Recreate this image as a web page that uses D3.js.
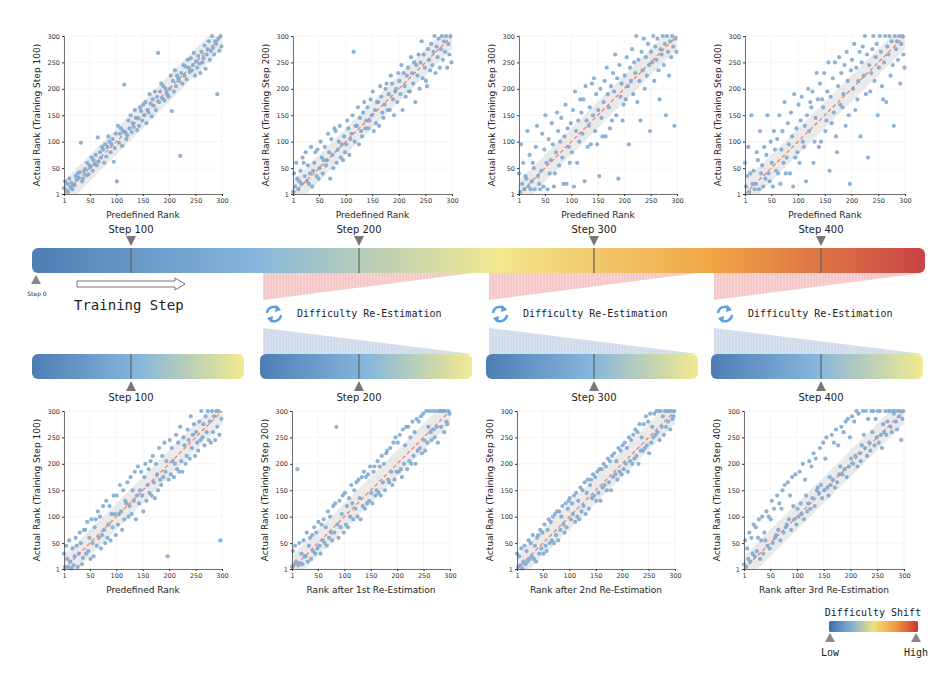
<!DOCTYPE html>
<html><head><meta charset="utf-8">
<script src="https://cdn.jsdelivr.net/npm/d3@7"></script>
<style>body{margin:0;background:#fff}</style>
</head><body><svg id="c" width="950" height="680" font-family="DejaVu Sans, sans-serif"></svg>
<script>
// ---- DATA (y values for predefined ranks 1,3,5,...,299) ----
const top1=[12,25,8,20,5,30,15,22,10,18, 18,35,28,40,32,42,98,25,30,44, 48,36,60,38,55,52,70,45,65,58, 75,55,108,62,80,70,90,85,60,95, 72,90,110,100,80,95,105,62,88,115, 25,130,98,115,125,92,120,208,118,105, 112,140,125,150,118,135,128,160,145,122, 145,130,165,158,140,170,150,175,135,160, 155,190,172,148,180,168,195,160,185,268, 175,195,210,182,205,178,200,192,188,185, 200,225,158,215,195,235,205,225,220,215, 73,230,210,245,225,242,218,255,240,232, 258,235,245,268,225,252,240,262,248,230, 270,250,258,282,238,265,275,290,255,272, 300,278,265,290,285,190,295,272,300,280];
const top2=[5,40,15,60,30,10,25,45,20,70, 60,35,80,25,55,20,40,90,15,45, 60,80,35,85,30,50,100,70,40,65, 90,55,65,115,80,30,105,75,50,125, 120,60,85,100,130,70,95,65,110,80, 95,140,125,75,105,115,150,270,100,130, 130,165,95,145,120,110,155,175,125,140, 165,125,140,180,150,195,120,160,135,175, 175,130,205,185,155,145,170,200,210,160, 190,160,225,210,180,150,195,200,175,230, 215,190,245,160,230,205,185,225,240,195, 195,260,230,210,250,175,245,225,265,200, 250,290,220,265,240,215,205,275,255,235, 285,245,270,300,230,280,260,295,240,275, 300,255,290,270,300,240,285,265,300,250];
const top3=[40,5,95,20,60,10,35,30,120,15, 75,10,25,60,50,10,90,130,35,20, 10,45,115,15,85,150,60,10,105,40, 65,135,95,15,40,80,155,120,55,100, 145,70,20,110,170,20,125,90,60,135, 80,160,15,195,120,60,140,100,180,155, 115,180,25,205,140,90,130,165,95,210, 150,220,120,190,95,160,35,200,145,110, 175,215,110,240,190,165,125,205,140,230, 195,265,150,220,30,245,185,210,140,170, 225,180,260,205,95,240,215,275,190,250, 230,300,175,255,215,140,270,235,295,200, 260,225,285,245,120,270,250,300,215,280, 255,295,235,180,275,265,300,245,285,150, 300,270,225,290,260,300,280,130,295,270];
const top4=[60,15,35,90,5,40,150,20,45,10, 20,80,65,10,120,40,55,15,90,30, 75,150,40,25,100,60,15,120,85,45, 105,40,150,20,85,120,60,175,40,70, 135,95,40,155,110,15,190,70,125,80, 170,60,140,185,100,90,130,25,150,200, 120,175,165,195,60,100,145,230,180,90, 210,100,180,165,230,120,140,195,250,45, 185,135,220,155,250,110,80,205,260,170, 230,165,190,245,130,270,215,150,20,235, 255,200,285,160,240,180,215,270,110,250, 280,225,300,190,265,70,245,195,230,275, 300,215,260,285,150,240,300,270,205,180, 250,300,175,280,265,300,225,290,245,130, 300,275,290,255,300,210,285,300,265,240];
const bot1=[30,5,45,20,5,55,15,2,40,8, 25,60,45,5,30,70,50,10,22,75, 75,30,90,35,60,20,95,50,25,80, 95,45,110,60,100,40,65,120,75,50, 130,60,85,120,55,105,80,140,105,65, 140,85,105,160,110,75,150,95,130,125, 165,100,120,175,105,150,130,185,95,140, 195,125,150,185,140,110,175,200,130,160, 190,145,205,140,215,165,135,200,180,150, 230,170,160,215,175,240,185,205,25,170, 245,180,230,205,175,200,255,190,240,185, 270,205,185,250,235,200,215,265,245,210, 290,230,255,275,215,260,240,225,280,245, 300,250,275,235,290,260,300,245,280,240, 300,260,290,245,300,270,300,255,55,285];
const bot2=[5,35,10,45,15,190,8,50,12,30, 10,55,25,25,70,15,45,60,20,65, 35,80,30,70,40,90,45,30,85,55, 95,50,80,45,110,60,100,70,55,120, 70,125,270,85,60,130,80,105,140,70, 145,85,120,80,135,100,160,125,95,150, 115,165,100,170,135,95,175,120,185,115, 175,125,180,130,195,145,125,185,195,140, 150,205,145,195,140,215,165,200,150,220, 225,170,165,230,185,160,240,170,250,185, 240,185,255,190,175,265,200,235,270,190, 270,205,250,200,280,215,260,200,285,225, 280,230,290,220,295,245,225,300,240,270, 300,260,245,300,265,250,300,270,240,300, 300,270,300,300,260,300,280,275,300,295];
const bot3=[30,5,25,8,40,2,15,45,10,35, 15,55,20,50,25,65,20,45,15,60, 65,30,75,40,70,30,85,45,35,75, 95,50,90,55,100,50,105,65,110,55, 110,75,100,120,85,70,125,80,115,130, 135,95,125,105,140,90,145,100,130,95, 155,110,150,120,165,105,145,170,115,160, 170,135,180,140,175,130,185,145,190,130, 190,155,200,160,195,150,210,165,205,150, 215,175,220,180,205,170,230,185,225,180, 235,190,240,200,230,185,250,205,245,200, 255,210,265,215,260,200,275,225,250,225, 275,230,290,235,280,220,295,240,270,250, 295,255,300,260,300,245,300,270,290,255, 300,270,300,280,300,265,300,285,290,300];
const bot4=[10,55,5,40,20,70,15,60,30,85, 25,80,35,60,95,20,55,100,30,70, 55,110,45,100,40,95,130,50,115,60, 65,140,75,125,55,115,150,70,160,80, 85,165,95,140,75,175,120,95,180,85, 115,100,185,125,105,200,95,170,140,110, 125,205,115,195,135,220,120,210,150,155, 145,230,160,135,240,150,210,250,155,140, 175,160,255,170,240,155,265,165,235,180, 195,270,180,260,190,280,175,285,195,250, 210,290,200,280,215,300,195,295,220,205, 235,300,255,230,300,215,285,240,225,300, 260,300,235,285,250,300,240,300,255,230, 275,260,300,255,280,300,300,270,260,300, 295,300,280,265,300,290,300,245,285,300];
const xTicks=[1,50,100,150,200,250,300];
const stepLabels=["Step 100","Step 200","Step 300","Step 400"];
const stepPos=[100,200,300,400];
const panels=[
 {x:64,y:36,w:158,h:158,d:top1,yl:"Actual Rank (Training Step 100)",xl:"Predefined Rank"},
 {x:293,y:36,w:159,h:158,d:top2,yl:"Actual Rank (Training Step 200)",xl:"Predefined Rank"},
 {x:519,y:36,w:158,h:158,d:top3,yl:"Actual Rank (Training Step 300)",xl:"Predefined Rank"},
 {x:745,y:36,w:160,h:158,d:top4,yl:"Actual Rank (Training Step 400)",xl:"Predefined Rank"},
 {x:64,y:411,w:158,h:158,d:bot1,yl:"Actual Rank (Training Step 100)",xl:"Predefined Rank"},
 {x:292,y:411,w:158,h:158,d:bot2,yl:"Actual Rank (Training Step 200)",xl:"Rank after 1st Re-Estimation"},
 {x:517,y:411,w:158,h:158,d:bot3,yl:"Actual Rank (Training Step 300)",xl:"Rank after 2nd Re-Estimation"},
 {x:744,y:411,w:160,h:158,d:bot4,yl:"Actual Rank (Training Step 400)",xl:"Rank after 3rd Re-Estimation"}];
const MONO="DejaVu Sans Mono, monospace";

const svg=d3.select("#c");
const defs=svg.append("defs");
function grad(id,stops){const g=defs.append("linearGradient").attr("id",id);
 stops.forEach(s=>g.append("stop").attr("offset",s[0]).attr("stop-color",s[1]));}
grad("gTop",[[0,"#4e7db4"],[0.25,"#86b6dd"],[0.52,"#f1e88e"],[0.76,"#f1a544"],[1,"#c94446"]]);
grad("gBot",[[0,"#4e7db4"],[0.5,"#86b6dd"],[1,"#f2ea90"]]);
grad("gLeg",[[0,"#3a6fb0"],[0.25,"#7fb0d8"],[0.5,"#f0e27a"],[0.75,"#f09a3c"],[1,"#cc3333"]]);
function hatch(id,bg,line){const p=defs.append("pattern").attr("id",id).attr("width",3).attr("height",4).attr("patternUnits","userSpaceOnUse");
 p.append("rect").attr("width",3).attr("height",4).attr("fill",bg);
 p.append("line").attr("x1",1).attr("x2",1).attr("y1",0).attr("y2",4).attr("stroke",line).attr("stroke-width",0.8);}
hatch("hPink","#f8d4d4","#f1b8b8");hatch("hBlue","#d9e3ef","#c3d2e5");

panels.forEach((p,i)=>{
 const g=svg.append("g").attr("transform",`translate(${p.x},${p.y})`);
 const x=d3.scaleLinear().domain([1,300]).range([0,p.w]);
 const y=d3.scaleLinear().domain([1,300]).range([p.h,0]);
 defs.append("clipPath").attr("id","cp"+i).append("rect").attr("width",p.w).attr("height",p.h);
 g.selectAll(".gx").data(xTicks).join("line").attr("x1",d=>x(d)).attr("x2",d=>x(d)).attr("y1",0).attr("y2",p.h).attr("stroke","#eee").attr("stroke-width",0.6);
 g.selectAll(".gy").data(xTicks).join("line").attr("y1",d=>y(d)).attr("y2",d=>y(d)).attr("x1",0).attr("x2",p.w).attr("stroke","#eee").attr("stroke-width",0.6);
 const band=[[1,-24],[1,26],[300,326],[300,276]];
 g.append("path").attr("clip-path",`url(#cp${i})`).attr("d",d3.line()(band.map(b=>[x(b[0]),y(b[1])]))+"Z").attr("fill","#d9d9d9").attr("opacity",0.55);
 g.append("line").attr("x1",x(1)).attr("y1",y(1)).attr("x2",x(300)).attr("y2",y(300)).attr("stroke","#f07a6a").attr("stroke-width",1.2).attr("stroke-dasharray","4,2.5");
 g.append("g").selectAll("circle").data(p.d).join("circle").attr("cx",(d,k)=>x(2*k+1)).attr("cy",d=>y(Math.max(1,Math.min(300,d)))).attr("r",2.1).attr("fill","#7ca8d0").attr("opacity",0.88);
 const ax=g.append("g").attr("transform",`translate(0,${p.h})`).call(d3.axisBottom(x).tickValues(xTicks).tickSize(2).tickPadding(2));
 const ay=g.append("g").call(d3.axisLeft(y).tickValues(xTicks).tickSize(2).tickPadding(2));
 [ax,ay].forEach(a=>{a.attr("font-family",null);a.selectAll("text").attr("font-size",6.5).attr("fill","#333");a.select(".domain").attr("stroke","#333").attr("stroke-width",0.7);a.selectAll(".tick line").attr("stroke","#333");});
 g.append("text").attr("x",p.w/2).attr("y",p.h+24).attr("text-anchor","middle").attr("font-size",9).attr("fill","#222").text(p.xl);
 g.append("text").attr("transform",`translate(-24,${p.h/2}) rotate(-90)`).attr("text-anchor","middle").attr("font-size",9).attr("fill","#222").text(p.yl);
});

const sx=d3.scaleLinear().domain([0,100,200,300,400]).range([36,131,359,594,821]);
svg.append("rect").attr("x",32).attr("y",248).attr("width",893).attr("height",25).attr("rx",6).attr("fill","url(#gTop)");
stepPos.forEach((s,i)=>{
 svg.append("line").attr("x1",sx(s)).attr("x2",sx(s)).attr("y1",248).attr("y2",273).attr("stroke","#666").attr("stroke-width",1.3);
 svg.append("path").attr("d",`M${sx(s)-5},236L${sx(s)+5},236L${sx(s)},246Z`).attr("fill","#777");
 svg.append("text").attr("x",sx(s)).attr("y",233).attr("text-anchor","middle").attr("font-size",10).attr("fill","#222").text(stepLabels[i]);
});
svg.append("path").attr("d","M36,275L41,284L31,284Z").attr("fill","#888");
svg.append("text").attr("x",37).attr("y",296).attr("text-anchor","middle").attr("font-size",6).attr("fill","#333").text("Step 0");
svg.append("path").attr("d","M77,281L175,281L175,278L185,284L175,290L175,287L77,287Z").attr("fill","#fff").attr("stroke","#666").attr("stroke-width",0.9);
svg.append("text").attr("x",74).attr("y",310).attr("font-family",MONO).attr("font-size",14).attr("fill","#222").text("Training Step");

const subX=[32,260,486,711];
subX.forEach((bx,i)=>{
 const tx=sx(stepPos[i]);
 if(i>0){
  svg.append("path").attr("d",`M${bx+3},273L${bx+212},273L${bx+3},300Z`).attr("fill","url(#hPink)");
  svg.append("path").attr("d",`M${bx+3},328L${bx+212},354L${bx+3},354Z`).attr("fill","url(#hBlue)");
  const ix=bx+14,iy=314;
  const ic=svg.append("g").attr("transform",`translate(${ix},${iy})`).attr("fill","none").attr("stroke","#5b9fe0").attr("stroke-width",2.4);
  ic.append("path").attr("d","M-7,-1A7,7 0 0 1 5,-5");
  ic.append("path").attr("d","M7,1A7,7 0 0 1 -5,5");
  ic.append("path").attr("d","M2,-9L7,-4L1,-2Z").attr("fill","#5b9fe0").attr("stroke","none");
  ic.append("path").attr("d","M-2,9L-7,4L-1,2Z").attr("fill","#5b9fe0").attr("stroke","none");
  svg.append("text").attr("x",bx+37).attr("y",317).attr("font-family",MONO).attr("font-size",10).attr("fill","#222").text("Difficulty Re-Estimation");
 }
 svg.append("rect").attr("x",bx).attr("y",354).attr("width",212).attr("height",25).attr("rx",6).attr("fill","url(#gBot)");
 svg.append("line").attr("x1",tx).attr("x2",tx).attr("y1",354).attr("y2",379).attr("stroke","#666").attr("stroke-width",1.3);
 svg.append("path").attr("d",`M${tx},381L${tx+5},391L${tx-5},391Z`).attr("fill","#777");
 svg.append("text").attr("x",tx).attr("y",401).attr("text-anchor","middle").attr("font-size",10).attr("fill","#222").text(stepLabels[i]);
});

svg.append("text").attr("x",873).attr("y",616).attr("text-anchor","middle").attr("font-family",MONO).attr("font-size",10).attr("fill","#222").text("Difficulty Shift");
svg.append("rect").attr("x",829).attr("y",621).attr("width",89).attr("height",11).attr("rx",1.5).attr("fill","url(#gLeg)");
[830,916].forEach(t=>svg.append("path").attr("d",`M${t},633L${t+5},642L${t-5},642Z`).attr("fill","#888"));
svg.append("text").attr("x",830).attr("y",656).attr("text-anchor","middle").attr("font-family",MONO).attr("font-size",10).attr("fill","#222").text("Low");
svg.append("text").attr("x",916).attr("y",656).attr("text-anchor","middle").attr("font-family",MONO).attr("font-size",10).attr("fill","#222").text("High");
</script></body></html>
